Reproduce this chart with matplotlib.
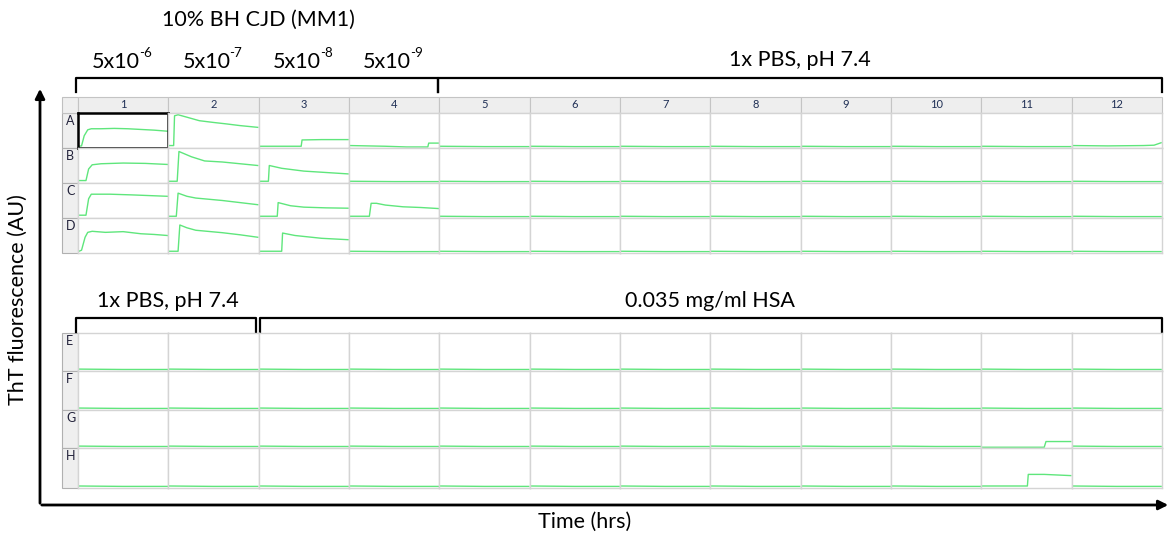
"""
ThT fluorescence plate view: 96-well RT-QuIC traces, CJD dilutions vs PBS / HSA
"""
import numpy as np
import matplotlib
matplotlib.use("Agg")
import matplotlib.pyplot as plt
from matplotlib.patches import Rectangle

plt.rcParams['font.family'] = ['Lato', 'DejaVu Sans']

# plate layout
rows_top = ["A", "B", "C", "D"]
rows_bottom = ["E", "F", "G", "H"]
cols = [str(c) for c in range(1, 13)]

# traces: (fraction of run time, fraction of well height)
A1 = [(0.0, 0.05), (0.03, 0.06), (0.06, 0.35), (0.10, 0.52), (0.14, 0.55), (0.25, 0.55),
      (0.40, 0.56), (0.55, 0.55), (0.70, 0.53), (0.85, 0.51), (1.0, 0.48)]
A2 = [(0.0, 0.07), (0.05, 0.07), (0.06, 0.92), (0.10, 0.95), (0.20, 0.88), (0.34, 0.78),
      (0.50, 0.73), (0.64, 0.69), (0.80, 0.64), (1.0, 0.59)]
A3 = [(0.0, 0.05), (0.47, 0.05), (0.48, 0.23), (0.70, 0.24), (1.0, 0.24)]
A4 = [(0.0, 0.07), (0.40, 0.05), (0.64, 0.03), (0.88, 0.03), (0.89, 0.14), (1.0, 0.14)]
A12 = [(0.0, 0.07), (0.40, 0.06), (0.80, 0.07), (0.92, 0.08), (1.0, 0.15)]
B1 = [(0.0, 0.07), (0.08, 0.07), (0.11, 0.40), (0.15, 0.52), (0.25, 0.55), (0.50, 0.57),
      (0.75, 0.56), (1.0, 0.53)]
B2 = [(0.0, 0.05), (0.09, 0.05), (0.11, 0.90), (0.25, 0.75), (0.40, 0.63), (0.60, 0.60),
      (0.80, 0.55), (1.0, 0.50)]
B3 = [(0.0, 0.05), (0.10, 0.05), (0.11, 0.50), (0.25, 0.42), (0.50, 0.34), (0.75, 0.30),
      (1.0, 0.26)]
C1 = [(0.0, 0.08), (0.08, 0.08), (0.11, 0.55), (0.14, 0.68), (0.35, 0.68), (0.60, 0.66),
      (0.80, 0.64), (1.0, 0.62)]
C2 = [(0.0, 0.05), (0.08, 0.05), (0.10, 0.71), (0.20, 0.62), (0.30, 0.57), (0.60, 0.50),
      (0.80, 0.44), (1.0, 0.38)]
C3 = [(0.0, 0.05), (0.20, 0.05), (0.21, 0.44), (0.35, 0.35), (0.50, 0.31), (0.75, 0.29),
      (1.0, 0.28)]
C4 = [(0.0, 0.05), (0.22, 0.05), (0.24, 0.42), (0.30, 0.42), (0.40, 0.37), (0.60, 0.32),
      (0.80, 0.30), (1.0, 0.27)]
D1 = [(0.0, 0.05), (0.03, 0.08), (0.07, 0.45), (0.10, 0.59), (0.15, 0.62), (0.30, 0.59),
      (0.50, 0.61), (0.70, 0.55), (0.85, 0.53), (1.0, 0.50)]
D2 = [(0.0, 0.05), (0.10, 0.05), (0.12, 0.80), (0.20, 0.72), (0.30, 0.65), (0.60, 0.58),
      (0.80, 0.52), (1.0, 0.45)]
D3 = [(0.0, 0.05), (0.25, 0.05), (0.26, 0.57), (0.40, 0.50), (0.55, 0.46), (0.70, 0.42),
      (1.0, 0.38)]
G11 = [(0.0, 0.02), (0.70, 0.02), (0.72, 0.17), (0.85, 0.17), (1.0, 0.17)]
H11 = [(0.0, 0.05), (0.51, 0.05), (0.52, 0.34), (0.70, 0.34), (1.0, 0.31)]
flat = [(0.0, 0.05), (0.5, 0.04), (1.0, 0.04)]

traces = {"A1": A1, "A2": A2, "A3": A3, "A4": A4, "A12": A12,
          "B1": B1, "B2": B2, "B3": B3,
          "C1": C1, "C2": C2, "C3": C3, "C4": C4,
          "D1": D1, "D2": D2, "D3": D3,
          "G11": G11, "H11": H11}

dil_exps = ["-6", "-7", "-8", "-9"]

W, H = 1171, 540
fig = plt.figure(figsize=(W / 100, H / 100), dpi=100)
bg = fig.add_axes([0, 0, 1, 1])
bg.set_xlim(0, W)
bg.set_ylim(H, 0)
bg.axis("off")

col_edges = np.linspace(78, 1162, 13)
top_edges = [113, 148, 183, 218, 253]
bot_edges = [333, 371, 410, 448, 488]
green = "#5fe67c"
grid_c = "#d4d4d4"
fs = 15.5


def well_axes(x0, x1, y0, y1):
    ax = fig.add_axes([x0 / W, 1 - y1 / H, (x1 - x0) / W, (y1 - y0) / H])
    ax.set_xlim(-0.01, 1.01)
    ax.set_ylim(0, 1)
    ax.set_xticks([])
    ax.set_yticks([])
    for s in ax.spines.values():
        s.set_color(grid_c)
        s.set_linewidth(1.0)
    return ax


def draw_plate(row_names, edges, header):
    # row label column
    for i, r in enumerate(row_names):
        bg.add_patch(Rectangle((62, edges[i]), 16, edges[i + 1] - edges[i],
                               facecolor="#efefef", edgecolor="#b0b0b0", lw=0.8))
        bg.text(66, edges[i] + 2, r, fontsize=9, color="#22223a", va="top", ha="left")
    if header:
        bg.add_patch(Rectangle((62, 97), 16, 16, facecolor="#efefef", edgecolor="#c0c0c0", lw=0.8))
        for j, c in enumerate(cols):
            bg.add_patch(Rectangle((col_edges[j], 97), col_edges[j + 1] - col_edges[j], 16,
                                   facecolor="#eeeeee", edgecolor="#c4c4c4", lw=0.8))
            bg.text((col_edges[j] + col_edges[j + 1]) / 2, 105, c, fontsize=8,
                    color="#1f2f55", ha="center", va="center")
    for i, r in enumerate(row_names):
        for j, c in enumerate(cols):
            ax = well_axes(col_edges[j], col_edges[j + 1], edges[i], edges[i + 1])
            pts = np.array(traces.get(r + c, flat))
            ax.plot(pts[:, 0], pts[:, 1], color=green, lw=1.0)
            if r + c == "A1":
                for s in ax.spines.values():
                    s.set_color("black")
                    s.set_linewidth(1.8)
                    s.set_zorder(5)


draw_plate(rows_top, top_edges, True)
draw_plate(rows_bottom, bot_edges, False)


def bracket(x0, x1, y, depth=14):
    bg.plot([x0, x0, x1, x1], [y + depth, y, y, y + depth], color="black", lw=1.6,
            solid_joinstyle="round")


# top annotations
bg.text(258, 20, "10% BH CJD (MM1)", fontsize=fs, ha="center", va="center")
for j, e in enumerate(dil_exps):
    xc = (col_edges[j] + col_edges[j + 1]) / 2
    bg.text(xc + 17, 62, "5x10", fontsize=fs, ha="right", va="center")
    bg.text(xc + 16, 53, e, fontsize=fs * 0.62, ha="left", va="center")
bracket(76, 438, 78)
bracket(438, 1162, 78)
bg.text(800, 60, "1x PBS, pH 7.4", fontsize=fs, ha="center", va="center")

# bottom annotations
bracket(76, 256, 318)
bracket(260, 1162, 318)
bg.text(168, 301, "1x PBS, pH 7.4", fontsize=fs, ha="center", va="center")
bg.text(710, 301, "0.035 mg/ml HSA", fontsize=fs, ha="center", va="center")

# axis arrows
bg.annotate("", xy=(40, 86), xytext=(40, 506),
            arrowprops=dict(arrowstyle="-|>", color="black", lw=2, mutation_scale=14))
bg.annotate("", xy=(1171, 505), xytext=(39, 505),
            arrowprops=dict(arrowstyle="-|>", color="black", lw=2, mutation_scale=14))
bg.text(585, 522, "Time (hrs)", fontsize=fs, ha="center", va="center")
bg.text(18, 300, "ThT fluorescence (AU)", fontsize=fs, ha="center", va="center", rotation=90)

fig.savefig("out.png", dpi=100)
